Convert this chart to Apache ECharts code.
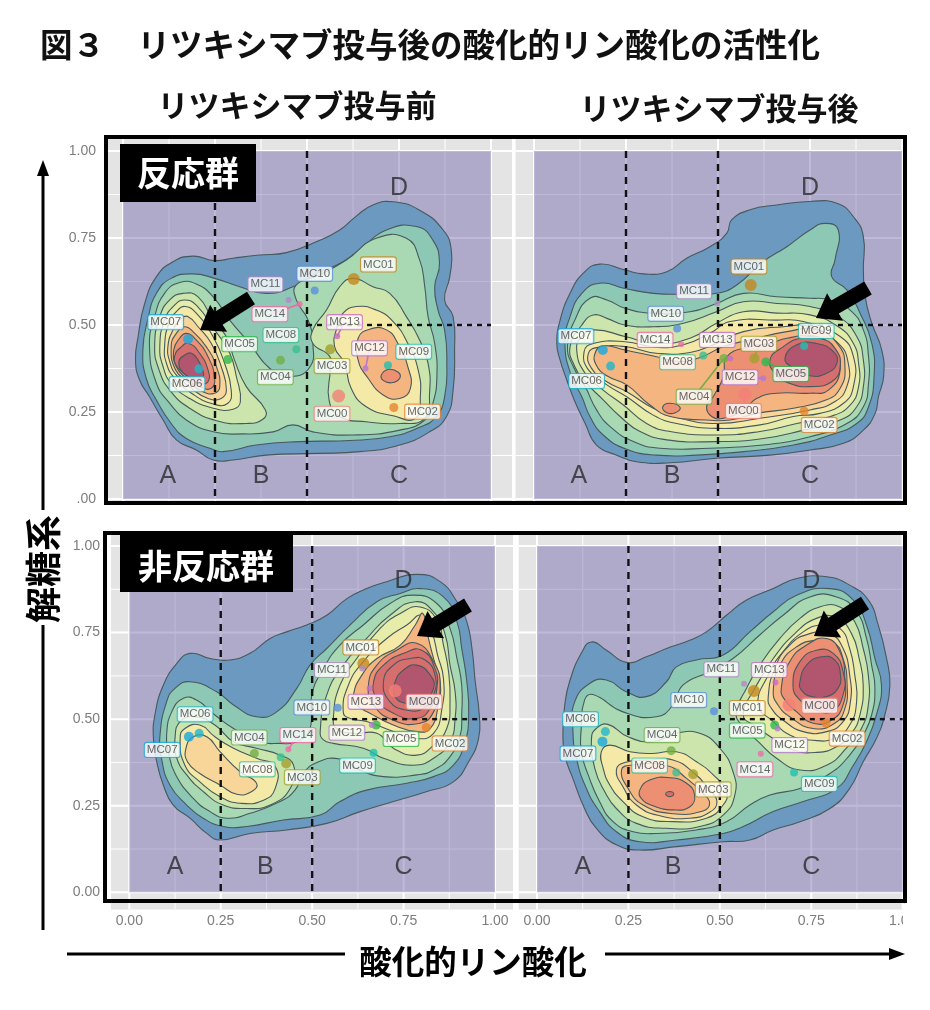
<!DOCTYPE html>
<html><head><meta charset="utf-8">
<style>html,body{margin:0;padding:0;background:#fff}#c{width:930px;height:1010px}</style>
<script src="https://cdn.jsdelivr.net/npm/echarts@6/dist/echarts.min.js"></script>
</head><body><div id="c"></div>
<script>
const clusters=['MC00','MC01','MC02','MC03','MC04','MC05','MC06','MC07','MC08','MC09','MC10','MC11','MC12','MC13','MC14'];
const clusterColors=['#F47F78','#C4861F','#E5832E','#A3A02E','#72AE45','#2FB84C','#22B5C8','#1AA7DF','#3BBF8F','#1FBFB0','#5A8FDD','#B08AC8','#B779D2','#C76BC4','#EE6BA8'];
const pointSizes=[13,12,9,10,9,9,9,10,8,8,8,6,6,6,6];
const ticks=[0,0.25,0.5,0.75,1];
const minorLines=[0.125,0.375,0.625,0.875];
const levelColors=['#6C99BF','#8DC8B4','#A9D9B2','#CBE5AC','#E6EDAA','#F5E9A8','#F8D598','#F5B580','#EC8F72','#D66E6E','#B2566F'];

const pointsTL=[[.586,.296],[.627,.632],[.736,.263],[.563,.430],[.428,.399],[.285,.401],[.206,.374],[.177,.459],[.471,.430],[.720,.384],[.521,.599],[.450,.572],[.659,.375],[.582,.468],[.480,.560]];
const labelsTL=[[.568,.245],[.694,.674],[.814,.251],[.568,.382],[.414,.350],[.317,.445],[.174,.330],[.116,.508],[.429,.471],[.790,.423],[.521,.647],[.387,.617],[.670,.433],[.602,.508],[.399,.531]];
const linksTL=[12,13,14];
const pointsTR=[[.573,.301],[.589,.615],[.734,.253],[.599,.404],[.516,.404],[.630,.394],[.208,.382],[.187,.428],[.460,.412],[.734,.440],[.389,.490],[.498,.562],[.623,.347],[.533,.404],[.400,.445]];
const labelsTR=[[.569,.253],[.584,.668],[.775,.213],[.611,.446],[.435,.294],[.698,.359],[.143,.339],[.114,.468],[.390,.393],[.767,.483],[.358,.532],[.435,.597],[.560,.350],[.498,.457],[.329,.457]];
const linksTR=[0,3,4,5,12];
const pointsBL=[[.727,.582],[.640,.661],[.812,.476],[.429,.372],[.342,.401],[.675,.483],[.191,.459],[.163,.449],[.414,.390],[.668,.403],[.570,.533],[.637,.646],[.663,.483],[.657,.589],[.435,.413]];
const labelsBL=[[.806,.550],[.633,.707],[.877,.430],[.473,.332],[.328,.447],[.743,.443],[.180,.514],[.090,.411],[.350,.355],[.624,.366],[.499,.534],[.554,.642],[.595,.461],[.647,.550],[.461,.454]];
const linksBL=[14];
const pointsBR=[[.689,.541],[.593,.581],[.790,.488],[.427,.341],[.367,.409],[.650,.483],[.187,.464],[.179,.435],[.381,.346],[.703,.346],[.484,.523],[.566,.602],[.658,.473],[.652,.606],[.612,.400]];
const labelsBR=[[.773,.539],[.575,.532],[.848,.444],[.482,.297],[.342,.454],[.575,.467],[.119,.500],[.112,.401],[.308,.366],[.772,.313],[.415,.555],[.504,.644],[.691,.425],[.635,.642],[.596,.355]];
const linksBR=[];

const contoursTL=[
[0,[[.034,.399],[.041,.466],[.059,.562],[.091,.639],[.136,.682],[.190,.698],[.249,.685],[.299,.692],[.371,.701],[.444,.708],[.525,.739],[.589,.773],[.634,.813],[.679,.845],[.734,.854],[.806,.830],[.870,.773],[.892,.716],[.888,.639],[.874,.572],[.897,.524],[.901,.428],[.897,.313],[.879,.237],[.833,.193],[.752,.155],[.643,.136],[.525,.131],[.389,.126],[.299,.112],[.245,.112],[.199,.141],[.145,.170],[.109,.227],[.072,.294],[.045,.342]]],
[1,[[.054,.428],[.068,.519],[.091,.591],[.131,.634],[.190,.647],[.249,.634],[.317,.610],[.389,.591],[.462,.610],[.525,.648],[.598,.682],[.652,.725],[.716,.773],[.797,.783],[.842,.744],[.860,.677],[.847,.610],[.856,.543],[.874,.486],[.880,.390],[.874,.294],[.851,.237],[.806,.206],[.725,.179],[.616,.168],[.480,.165],[.362,.155],[.272,.136],[.236,.146],[.172,.174],[.131,.217],[.091,.284],[.063,.347]]],
[2,[[.072,.438],[.086,.524],[.113,.591],[.154,.622],[.199,.618],[.245,.581],[.290,.514],[.344,.447],[.399,.375],[.453,.352],[.507,.378],[.516,.447],[.503,.514],[.471,.572],[.471,.615],[.534,.644],[.607,.687],[.688,.749],[.770,.749],[.806,.687],[.820,.610],[.829,.524],[.847,.447],[.853,.352],[.842,.275],[.820,.227],[.752,.198],[.625,.184],[.516,.193],[.462,.213],[.408,.193],[.326,.187],[.245,.193],[.172,.227],[.127,.275],[.091,.332]]],
[3,[[.516,.486],[.553,.543],[.589,.610],[.625,.634],[.679,.610],[.725,.591],[.770,.524],[.806,.457],[.829,.390],[.833,.304],[.820,.232],[.752,.217],[.661,.222],[.589,.237],[.560,.284],[.563,.371],[.562,.409],[.516,.447]]],
[5,[[.582,.495],[.598,.534],[.634,.553],[.688,.543],[.734,.510],[.774,.447],[.802,.371],[.808,.294],[.795,.232],[.734,.239],[.661,.265],[.620,.318],[.602,.390],[.575,.438]]],
[7,[[.639,.462],[.670,.488],[.716,.486],[.747,.447],[.774,.380],[.781,.318],[.752,.289],[.707,.299],[.666,.347],[.639,.399]]],
[8,[[.702,.356],[.720,.372],[.747,.365],[.752,.347],[.730,.334],[.707,.341]]],
[3,[[.086,.438],[.100,.524],[.127,.572],[.163,.591],[.204,.581],[.245,.514],[.281,.466],[.303,.399],[.335,.323],[.387,.256],[.380,.229],[.335,.217],[.254,.225],[.181,.261],[.127,.313],[.098,.371]]],
[4,[[.100,.438],[.113,.514],[.140,.557],[.168,.572],[.199,.557],[.249,.486],[.290,.419],[.308,.352],[.319,.280],[.299,.258],[.245,.261],[.181,.289],[.131,.332],[.109,.380]]],
[5,[[.113,.438],[.125,.505],[.149,.543],[.170,.553],[.199,.534],[.245,.466],[.276,.390],[.294,.313],[.285,.275],[.245,.273],[.186,.304],[.140,.347],[.118,.390]]],
[6,[[.122,.438],[.136,.486],[.159,.519],[.177,.524],[.204,.495],[.240,.447],[.267,.380],[.281,.313],[.267,.289],[.231,.289],[.186,.318],[.145,.356],[.127,.395]]],
[7,[[.131,.438],[.145,.476],[.168,.495],[.190,.481],[.226,.438],[.254,.380],[.263,.323],[.249,.304],[.217,.308],[.177,.337],[.143,.371]]],
[8,[[.138,.428],[.154,.462],[.172,.476],[.199,.457],[.231,.409],[.249,.347],[.240,.318],[.208,.323],[.172,.347],[.145,.380]]],
[9,[[.140,.409],[.159,.438],[.179,.447],[.208,.419],[.231,.371],[.231,.337],[.208,.332],[.172,.356],[.147,.380]]],
[10,[[.152,.395],[.168,.414],[.186,.419],[.204,.399],[.219,.361],[.213,.347],[.190,.347],[.163,.363]]]
];
const contoursTR=[
[0,[[.062,.447],[.071,.514],[.098,.591],[.134,.649],[.179,.675],[.247,.658],[.297,.647],[.361,.653],[.415,.692],[.478,.725],[.524,.764],[.537,.802],[.587,.831],[.660,.845],[.750,.855],[.823,.850],[.868,.811],[.895,.754],[.895,.658],[.900,.581],[.918,.505],[.945,.428],[.950,.352],[.936,.294],[.927,.246],[.895,.198],[.841,.160],[.750,.141],[.641,.126],[.496,.117],[.370,.104],[.279,.107],[.225,.126],[.170,.155],[.139,.217],[.111,.280],[.089,.342],[.071,.399]]],
[1,[[.084,.447],[.098,.524],[.130,.591],[.179,.620],[.247,.605],[.324,.591],[.424,.589],[.496,.591],[.551,.615],[.623,.682],[.687,.725],[.750,.773],[.791,.792],[.827,.773],[.818,.687],[.809,.639],[.850,.601],[.886,.534],[.918,.447],[.924,.352],[.909,.265],[.877,.217],[.805,.184],[.705,.155],[.569,.136],[.442,.126],[.333,.126],[.252,.143],[.188,.184],[.152,.237],[.130,.294],[.102,.352]]],
[2,[[.091,.438],[.111,.514],[.152,.577],[.198,.572],[.247,.548],[.324,.534],[.424,.538],[.496,.562],[.569,.591],[.660,.581],[.750,.577],[.805,.572],[.859,.543],[.895,.486],[.909,.409],[.909,.332],[.895,.265],[.850,.217],[.750,.179],[.623,.155],[.478,.146],[.342,.146],[.270,.165],[.207,.208],[.170,.256],[.139,.323],[.107,.380]]],
[3,[[.098,.438],[.130,.500],[.161,.529],[.198,.519],[.247,.500],[.324,.495],[.406,.505],[.496,.538],[.569,.567],[.660,.562],[.750,.553],[.827,.524],[.877,.467],[.895,.399],[.895,.323],[.877,.265],[.832,.227],[.732,.198],[.623,.174],[.496,.165],[.361,.170],[.288,.194],[.234,.237],[.188,.285],[.139,.337],[.111,.380]]],
[4,[[.116,.428],[.130,.467],[.166,.486],[.247,.467],[.333,.447],[.424,.462],[.496,.505],[.569,.538],[.660,.534],[.750,.529],[.827,.495],[.868,.447],[.882,.390],[.882,.323],[.859,.270],[.805,.237],[.714,.217],[.614,.194],[.496,.184],[.370,.194],[.306,.217],[.243,.270],[.188,.313],[.139,.361]]],
[5,[[.136,.423],[.161,.447],[.247,.452],[.333,.436],[.406,.443],[.478,.476],[.533,.510],[.660,.514],[.732,.510],[.832,.467],[.868,.409],[.868,.323],[.841,.275],[.777,.246],[.705,.237],[.614,.213],[.496,.203],[.388,.217],[.324,.241],[.252,.294],[.198,.328],[.148,.371]]],
[6,[[.148,.419],[.175,.436],[.247,.438],[.333,.419],[.424,.421],[.496,.447],[.569,.481],[.678,.495],[.750,.495],[.827,.447],[.854,.390],[.850,.323],[.818,.280],[.750,.256],[.614,.232],[.496,.217],[.397,.232],[.324,.261],[.252,.308],[.198,.337],[.156,.376]]],
[7,[[.166,.419],[.188,.440],[.247,.428],[.333,.409],[.397,.395],[.456,.409],[.515,.438],[.587,.457],[.687,.481],[.768,.486],[.827,.443],[.845,.380],[.832,.318],[.795,.285],[.705,.261],[.605,.246],[.533,.227],[.469,.227],[.370,.237],[.315,.270],[.252,.328],[.198,.354],[.169,.385]]],
[8,[[.350,.265],[.370,.275],[.397,.263],[.384,.248],[.361,.248]]],
[8,[[.469,.265],[.483,.237],[.515,.232],[.569,.256],[.605,.289],[.660,.304],[.750,.304],[.800,.313],[.832,.371],[.814,.428],[.768,.467],[.687,.462],[.641,.447],[.587,.438],[.524,.409],[.515,.352],[.487,.294]]],
[9,[[.641,.399],[.678,.438],[.723,.462],[.777,.462],[.818,.433],[.832,.380],[.809,.337],[.750,.323],[.696,.332],[.660,.356]]],
[10,[[.682,.404],[.714,.443],[.768,.447],[.814,.423],[.823,.390],[.795,.361],[.750,.354],[.705,.376]]]
];
const contoursBL=[
[0,[[.066,.444],[.070,.512],[.093,.598],[.130,.661],[.166,.690],[.221,.675],[.275,.671],[.330,.690],[.385,.733],[.430,.752],[.485,.772],[.540,.800],[.595,.848],[.649,.877],[.704,.897],[.786,.918],[.850,.897],[.896,.839],[.923,.781],[.937,.704],[.946,.608],[.957,.512],[.955,.444],[.928,.377],[.886,.319],[.814,.291],[.722,.262],[.631,.233],[.540,.199],[.430,.180],[.330,.170],[.248,.151],[.212,.170],[.166,.214],[.120,.252],[.093,.310],[.075,.377]]],
[1,[[.084,.454],[.102,.550],[.125,.589],[.166,.608],[.239,.579],[.285,.541],[.348,.507],[.403,.521],[.458,.589],[.494,.656],[.540,.704],[.604,.772],[.677,.839],[.741,.863],[.795,.877],[.859,.853],[.896,.781],[.909,.704],[.923,.608],[.928,.512],[.918,.435],[.886,.367],[.832,.334],[.759,.315],[.649,.295],[.576,.262],[.522,.223],[.421,.209],[.321,.190],[.257,.190],[.202,.214],[.157,.252],[.111,.310],[.088,.387]]],
[2,[[.102,.454],[.116,.521],[.148,.560],[.184,.555],[.234,.512],[.285,.473],[.357,.435],[.412,.430],[.458,.435],[.494,.473],[.499,.570],[.531,.646],[.576,.714],[.640,.772],[.713,.834],[.777,.858],[.841,.834],[.877,.762],[.896,.675],[.909,.598],[.909,.512],[.905,.454],[.877,.392],[.832,.353],[.786,.339],[.695,.334],[.631,.353],[.576,.385],[.513,.375],[.476,.343],[.453,.295],[.412,.262],[.330,.228],[.266,.214],[.221,.233],[.175,.271],[.125,.343],[.107,.406]]],
[3,[[.125,.444],[.139,.493],[.180,.507],[.234,.483],[.285,.435],[.348,.416],[.412,.396],[.449,.367],[.440,.300],[.385,.252],[.321,.242],[.257,.252],[.202,.291],[.157,.339],[.130,.387]]],
[5,[[.139,.444],[.152,.473],[.193,.483],[.234,.449],[.285,.416],[.348,.387],[.399,.363],[.399,.300],[.367,.266],[.303,.257],[.248,.276],[.193,.319],[.152,.367]]],
[6,[[.155,.416],[.175,.449],[.212,.449],[.248,.406],[.303,.348],[.348,.315],[.335,.291],[.294,.283],[.248,.310],[.193,.343],[.159,.377]]],
[3,[[.522,.464],[.540,.570],[.585,.656],[.649,.733],[.713,.800],[.782,.839],[.832,.810],[.864,.743],[.877,.656],[.891,.579],[.891,.502],[.877,.435],[.832,.387],[.777,.367],[.695,.387],[.640,.416],[.558,.430],[.531,.440]]],
[4,[[.558,.502],[.576,.598],[.622,.675],[.686,.762],[.741,.805],[.795,.824],[.841,.786],[.859,.714],[.873,.637],[.877,.550],[.868,.473],[.832,.425],[.786,.396],[.722,.416],[.677,.459],[.613,.459],[.567,.473]]],
[5,[[.585,.521],[.599,.598],[.640,.666],[.704,.733],[.759,.772],[.800,.800],[.827,.752],[.843,.685],[.859,.618],[.855,.531],[.832,.459],[.786,.444],[.713,.468],[.649,.493],[.604,.502]]],
[7,[[.613,.570],[.636,.627],[.677,.675],[.741,.714],[.782,.772],[.803,.805],[.818,.733],[.832,.675],[.850,.608],[.845,.541],[.823,.473],[.786,.464],[.722,.483],[.658,.517],[.622,.541]]],
[8,[[.654,.598],[.677,.656],[.731,.699],[.786,.719],[.832,.666],[.850,.598],[.832,.521],[.795,.488],[.722,.497],[.668,.541]]],
[9,[[.668,.608],[.695,.656],[.750,.690],[.800,.699],[.836,.646],[.841,.589],[.823,.531],[.786,.502],[.722,.517],[.677,.560]]],
[9,[[.695,.608],[.722,.656],[.768,.675],[.809,.671],[.836,.627],[.832,.570],[.804,.531],[.759,.526],[.713,.550]]],
[10,[[.727,.608],[.750,.642],[.786,.656],[.823,.627],[.832,.589],[.800,.550],[.759,.545],[.727,.565]]]
];
const contoursBR=[
[0,[[.071,.464],[.076,.541],[.089,.608],[.121,.690],[.149,.723],[.190,.699],[.244,.664],[.299,.680],[.354,.704],[.418,.728],[.463,.752],[.518,.800],[.573,.844],[.646,.877],[.710,.906],[.792,.911],[.855,.887],[.906,.844],[.933,.772],[.956,.675],[.965,.598],[.951,.512],[.928,.444],[.892,.377],[.855,.300],[.801,.242],[.719,.204],[.646,.180],[.582,.151],[.509,.146],[.381,.132],[.281,.122],[.217,.137],[.162,.185],[.130,.242],[.098,.329],[.076,.396]]],
[1,[[.098,.473],[.103,.550],[.144,.603],[.190,.613],[.244,.579],[.299,.565],[.354,.608],[.381,.651],[.436,.671],[.509,.685],[.582,.752],[.646,.810],[.710,.858],[.801,.877],[.865,.844],[.901,.772],[.924,.675],[.942,.598],[.928,.512],[.901,.435],[.865,.367],[.819,.300],[.728,.262],[.646,.233],[.564,.190],[.509,.170],[.381,.151],[.281,.146],[.217,.175],[.171,.233],[.135,.300],[.108,.387]]],
[2,[[.121,.473],[.130,.555],[.153,.571],[.235,.521],[.326,.507],[.372,.541],[.399,.598],[.472,.637],[.536,.675],[.609,.743],[.673,.800],[.746,.853],[.819,.853],[.874,.810],[.901,.733],[.915,.656],[.924,.589],[.915,.512],[.892,.454],[.855,.396],[.801,.343],[.719,.300],[.637,.281],[.582,.252],[.518,.204],[.436,.180],[.326,.170],[.263,.175],[.208,.204],[.171,.262],[.140,.339],[.121,.406]]],
[3,[[.149,.444],[.162,.473],[.194,.485],[.249,.449],[.317,.435],[.381,.459],[.445,.459],[.500,.416],[.536,.348],[.541,.281],[.509,.223],[.445,.190],[.354,.185],[.272,.199],[.217,.242],[.185,.291],[.158,.358]]],
[5,[[.176,.406],[.199,.425],[.254,.406],[.317,.401],[.381,.406],[.436,.377],[.482,.339],[.518,.291],[.509,.252],[.463,.214],[.372,.204],[.290,.218],[.235,.262],[.199,.310],[.181,.358]]],
[6,[[.217,.353],[.240,.375],[.308,.382],[.372,.382],[.431,.343],[.468,.300],[.492,.262],[.472,.231],[.418,.214],[.336,.221],[.272,.252],[.235,.305]]],
[7,[[.231,.353],[.258,.367],[.354,.366],[.409,.329],[.454,.286],[.472,.257],[.454,.235],[.372,.227],[.290,.252],[.249,.300]]],
[8,[[.281,.295],[.308,.324],[.363,.331],[.409,.315],[.431,.281],[.418,.247],[.372,.238],[.317,.250],[.285,.271]]],
[9,[[.352,.284],[.363,.291],[.374,.284],[.363,.276]]],
[3,[[.559,.483],[.545,.521],[.573,.589],[.609,.656],[.664,.733],[.719,.791],[.773,.824],[.828,.824],[.869,.781],[.892,.704],[.906,.627],[.906,.541],[.887,.473],[.846,.416],[.792,.367],[.719,.353],[.655,.387],[.605,.435]]],
[4,[[.564,.512],[.596,.589],[.646,.675],[.705,.747],[.764,.791],[.819,.793],[.860,.747],[.881,.675],[.892,.598],[.883,.512],[.860,.459],[.819,.420],[.764,.404],[.700,.411],[.646,.444],[.600,.478]]],
[5,[[.605,.541],[.632,.627],[.673,.695],[.728,.752],[.778,.772],[.828,.762],[.855,.704],[.869,.627],[.874,.550],[.855,.483],[.814,.444],[.746,.440],[.691,.454],[.646,.493]]],
[6,[[.632,.560],[.650,.646],[.691,.714],[.746,.747],[.801,.747],[.837,.704],[.855,.627],[.857,.550],[.837,.493],[.792,.464],[.728,.464],[.673,.497],[.641,.531]]],
[7,[[.646,.579],[.664,.656],[.710,.709],[.764,.728],[.810,.723],[.837,.675],[.848,.598],[.842,.531],[.814,.488],[.755,.473],[.691,.507],[.659,.541]]],
[8,[[.668,.589],[.691,.666],[.737,.714],[.792,.733],[.828,.695],[.842,.618],[.837,.541],[.805,.497],[.755,.488],[.710,.521],[.678,.555]]],
[9,[[.700,.598],[.719,.666],[.764,.699],[.810,.690],[.837,.637],[.837,.570],[.805,.521],[.764,.526],[.719,.555]]],
[10,[[.719,.608],[.737,.656],[.778,.680],[.814,.671],[.830,.627],[.823,.589],[.792,.565],[.751,.565],[.723,.584]]]
];
const lettersTop=[['A',.122,.066],['B',.375,.066],['C',.75,.066],['D',.75,.894]];
const lettersBottom=[['A',.125,.072],['B',.372,.072],['C',.75,.072],['D',.75,.90]];

const FONT='"Liberation Sans",Arial,sans-serif', JP='"Noto Sans CJK JP",sans-serif';
// panel layout in page pixels: where 0 and 1 of each axis fall, and the extent of the gray panel
const panels=[
 {c:contoursTL,p:pointsTL,l:labelsTL,k:linksTL,t:lettersTop,x0:123,x1:491,y0:499,y1:151,L:107,R:512,T:136,B:503,yLab:true,xLab:false,dashEnd:-0.01},
 {c:contoursTR,p:pointsTR,l:labelsTR,k:linksTR,t:lettersTop,x0:534,x1:902,y0:499,y1:151,L:515.6,R:905,T:136,B:503,yLab:false,xLab:false,dashEnd:-0.01},
 {c:contoursBL,p:pointsBL,l:labelsBL,k:linksBL,t:lettersBottom,x0:129.3,x1:495,y0:892.3,y1:546,L:111,R:513,T:533,B:909.6,yLab:true,xLab:true,dashEnd:0},
 {c:contoursBR,p:pointsBR,l:labelsBR,k:linksBR,t:lettersBottom,x0:537,x1:902.7,y0:892.3,y1:546,L:518.7,R:905,T:533,B:909.6,yLab:false,xLab:true,dashEnd:0}
];
const grids=[],xAxes=[],yAxes=[],series=[];
function axisCommon(show,min,max,margin){return {type:'value',min,max,show:true,
  axisLine:{show:false},splitLine:{show:false},
  axisTick:{show:show,customValues:ticks,length:3,lineStyle:{color:'#888',width:1}},
  axisLabel:{show:show,customValues:ticks,margin,color:'#7d7d7d',fontFamily:FONT,fontSize:14,formatter:v=>v.toFixed(2)}};}
panels.forEach((P,i)=>{
  grids.push({left:P.L,top:P.T,width:P.R-P.L,height:P.B-P.T,show:true,backgroundColor:'#E4E4E4',borderWidth:0});
  const xs=P.x1-P.x0, ys=P.y0-P.y1;
  const xmin=(P.L-P.x0)/xs,xmax=(P.R-P.x0)/xs,ymin=(P.y0-P.B)/ys,ymax=(P.y0-P.T)/ys;
  xAxes.push(Object.assign(axisCommon(P.xLab,xmin,xmax,5),{gridIndex:i}));
  yAxes.push(Object.assign(axisCommon(P.yLab,ymin,ymax,11),{gridIndex:i}));
  const base={xAxisIndex:i,yAxisIndex:i,silent:true,animation:false};
  const gl=[];ticks.forEach(v=>{gl.push([v,0,2]);gl.push([v,1,2]);});minorLines.forEach(v=>{gl.push([v,0,1]);gl.push([v,1,1]);});
  series.push(Object.assign({},base,{type:'custom',z:1,clip:true,data:gl,renderItem:(p,api)=>{
    const v=api.value(0),o=api.value(1),w=api.value(2);
    const a=o===0?api.coord([v,ymin]):api.coord([xmin,v]),b=o===0?api.coord([v,ymax]):api.coord([xmax,v]);
    return {type:'line',shape:{x1:a[0],y1:a[1],x2:b[0],y2:b[1]},style:{stroke:'#fff',lineWidth:w}};
  }}));
  series.push(Object.assign({},base,{type:'custom',z:2,data:[[0,0]],renderItem:(p,api)=>{
    const a=api.coord([0,1]),b=api.coord([1,0]);
    return {type:'rect',shape:{x:a[0],y:a[1],width:b[0]-a[0],height:b[1]-a[1]},style:{fill:'rgba(94,79,162,0.40)'}};
  }}));
  series.push(Object.assign({},base,{type:'custom',z:3,data:P.c.map((r,k)=>[k,0]),renderItem:(p,api)=>{
    const r=P.c[p.dataIndex];
    return {type:'polygon',shape:{points:r[1].map(q=>api.coord(q)),smooth:0.5,smoothConstraint:false},style:{fill:levelColors[r[0]],stroke:'#47595C',lineWidth:1.1}};
  }}));
  series.push(Object.assign({},base,{type:'custom',z:4,data:P.k.map(k=>[k,0]),renderItem:(p,api)=>{
    const k=P.k[p.dataIndex],a=api.coord(P.p[k]),b=api.coord(P.l[k]);
    return {type:'line',shape:{x1:a[0],y1:a[1],x2:b[0],y2:b[1]},style:{stroke:clusterColors[k],lineWidth:1.6}};
  }}));
  [[.25,1,.25,P.dashEnd,[7,6]],[.5,1,.5,P.dashEnd,[7,6]],[.5,.5,1,.5,[5,5]]].forEach(d=>{
    series.push(Object.assign({},base,{type:'line',z:5,showSymbol:false,symbol:'none',clip:false,data:[[d[0],d[1]],[d[2],d[3]]],
      lineStyle:{color:'#111',width:2.4,type:d[4]}}));
  });
  series.push(Object.assign({},base,{type:'scatter',z:6,clip:false,data:P.p.map((q,k)=>({name:clusters[k],value:q,symbolSize:pointSizes[k],itemStyle:{color:clusterColors[k]}}))}));
  series.push(Object.assign({},base,{type:'scatter',z:7,clip:false,symbolSize:1,itemStyle:{color:'transparent'},
    data:P.t.map(t=>({name:t[0],value:[t[1],t[2]]})),
    label:{show:true,position:'inside',formatter:'{b}',color:'#2a2a2a',fontFamily:FONT,fontSize:25}}));
  series.push(Object.assign({},base,{type:'scatter',z:8,clip:false,symbolSize:1,itemStyle:{color:'transparent'},
    data:P.l.map((q,k)=>({name:clusters[k],value:q,label:{borderColor:clusterColors[k]}})),
    label:{show:true,position:'inside',formatter:'{b}',color:'#444',fontFamily:FONT,fontSize:11.5,backgroundColor:'#fff',borderWidth:1.1,borderRadius:2,padding:[1,2,1,2]}}));
});
function blockArrow(tip,tail,shaft,headW,headL){
  const dx=tail[0]-tip[0],dy=tail[1]-tip[1],n=Math.hypot(dx,dy),u=[dx/n,dy/n],v=[-u[1],u[0]];
  const at=(a,b)=>[tip[0]+u[0]*a+v[0]*b,tip[1]+u[1]*a+v[1]*b];
  return {type:'polygon',z:50,silent:true,shape:{points:[tip,at(headL,headW/2),at(headL,shaft/2),at(n,shaft/2),at(n,-shaft/2),at(headL,-shaft/2),at(headL,-headW/2)]},style:{fill:'#000'}};
}
const rect=(x,y,w,h,fill,z)=>({type:'rect',z:z||60,silent:true,shape:{x,y,width:w,height:h},style:{fill}});
const text=(s,x,y,size,fill,rot)=>({type:'text',z:70,silent:true,x,y,rotation:rot||0,style:{text:s,fill,font:'700 '+size+'px '+JP,textAlign:'center',textVerticalAlign:'middle',align:'center',verticalAlign:'middle'}});
const graphic=[
  rect(903,904,27,36,'#fff',40), rect(58,490,18,18,'#fff',40),
  blockArrow([200,330],[251,298],15,32,22), blockArrow([816,318],[868,288],15,32,22),
  blockArrow([417,636],[468,605],15,32,22), blockArrow([814,636],[865,603],15,32,22),
  {type:'rect',z:60,silent:true,shape:{x:106,y:137,width:799,height:366},style:{fill:'none',stroke:'#000',lineWidth:4}},
  {type:'rect',z:60,silent:true,shape:{x:105,y:533,width:800,height:368},style:{fill:'none',stroke:'#000',lineWidth:4}},
  rect(120,144,136,58,'#000'), rect(120,535,173,57,'#000'),
  text('反応群',188,173,34,'#fff'), text('非反応群',206,566,34,'#fff'),
  text('解糖系',43,569,36,'#000',Math.PI/2), text('酸化的リン酸化',473,962,32.5,'#000'),
  rect(41.5,625,3,305,'#000'), rect(41.5,172,3,338,'#000'),
  {type:'polygon',z:60,silent:true,shape:{points:[[43,160],[49,176],[37,176]]},style:{fill:'#000'}},
  rect(67,952.5,278,3,'#000'), rect(605,952.5,288,3,'#000'),
  {type:'polygon',z:60,silent:true,shape:{points:[[905,954],[889,948],[889,960]]},style:{fill:'#000'}}
];
const titles=[
  {text:'図３　リツキシマブ投与後の酸化的リン酸化の活性化',left:40,top:28,textStyle:{fontFamily:JP,fontWeight:700,fontSize:32.5,color:'#111'},padding:0},
  {text:'リツキシマブ投与前',left:297,top:90,textAlign:'center',textStyle:{fontFamily:JP,fontWeight:700,fontSize:31,color:'#111'},padding:0},
  {text:'リツキシマブ投与後',left:719,top:93,textAlign:'center',textStyle:{fontFamily:JP,fontWeight:700,fontSize:31,color:'#111'},padding:0}
];
const chart=echarts.init(document.getElementById('c'),null,{renderer:'canvas',width:930,height:1010});
chart.setOption({animation:false,backgroundColor:'#fff',title:titles,grid:grids,xAxis:xAxes,yAxis:yAxes,series,graphic:{elements:graphic}});
</script></body></html>
